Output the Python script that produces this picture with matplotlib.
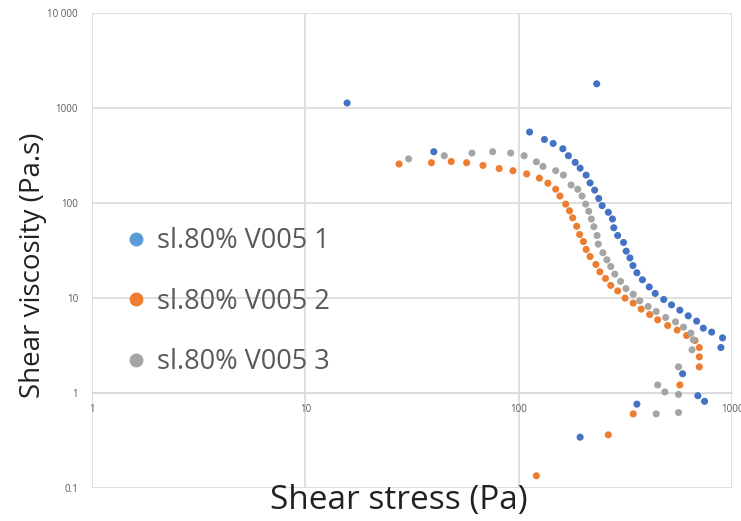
import matplotlib
matplotlib.use('Agg')
import matplotlib.pyplot as plt
from matplotlib.lines import Line2D

# Series 1 (blue)
x1 = [15.7, 232, 40, 112.5, 132, 145, 161, 171, 184, 194, 207, 216, 227, 237, 246,
      263, 275, 279, 291, 310, 319, 332, 343, 358, 380, 409, 436, 478, 520, 569,
      623, 682, 733, 802, 902, 886, 586, 691, 743, 358, 194]
y1 = [1130, 1800, 347, 559, 467, 424, 373, 315, 268, 233, 197, 163, 137, 112, 94,
      80, 68, 55, 45.6, 38.5, 31.2, 26.5, 22.0, 18.5, 15.6, 13.1, 11.2, 9.67, 8.5, 7.47,
      6.51, 5.73, 4.83, 4.39, 3.82, 3.02, 1.60, 0.94, 0.82, 0.766, 0.344]

# Series 2 (orange)
x2 = [27.5, 39, 48.3, 57, 68, 81, 94, 109, 125, 137, 149, 156, 166, 173, 179, 187,
      193, 201, 207, 216, 230, 240, 255, 270, 291, 315, 344, 375, 411, 448, 499,
      553, 612, 670, 702, 702, 702, 569, 344, 263, 121]
y2 = [258, 266, 274, 266, 249, 231, 219, 203, 183, 162, 140, 118.6, 97.6, 83, 70, 57,
      46.7, 39.4, 32.5, 27.4, 22.6, 18.9, 16.1, 13.6, 11.9, 10.0, 8.85, 7.66, 6.72, 5.91, 5.15,
      4.61, 4.04, 3.58, 3.02, 2.41, 1.89, 1.22, 0.605, 0.364, 0.135]

# Series 3 (gray)
x3 = [30.5, 44.8, 60.4, 75.5, 91.7, 106, 121, 130, 149, 162, 176, 189, 198, 206, 213,
      219, 225, 233, 236, 248, 259, 270, 282, 300, 318, 344, 369, 404, 441, 488,
      543, 592, 641, 658, 649, 561, 448, 484, 561, 441, 561]
y3 = [292, 315, 336, 347, 336, 315, 272, 243, 219, 197, 155, 140, 118.6, 97.6, 82,
      68, 56.4, 45.6, 37, 30, 25.3, 21.5, 17.9, 15.0, 12.6, 11.0, 9.37, 8.17, 7.23, 6.25,
      5.63, 4.95, 4.28, 3.64, 2.86, 1.89, 1.22, 1.03, 0.97, 0.605, 0.625]

labels = ['sl.80% V005 1', 'sl.80% V005 2', 'sl.80% V005 3']
colors = ['#4472C4', '#ED7D31', '#A5A5A5']
legend_colors = ['#5B9BD5', '#ED7D31', '#A5A5A5']

x_ticks = [1, 10, 100, 1000]
x_tick_labels = ['1', '10', '100', '1000']
y_ticks = [0.1, 1, 10, 100, 1000, 10000]
y_tick_labels = ['0.1', '1', '10', '100', '1000', '10 000']

plt.rcParams['font.family'] = ['Open Sans', 'DejaVu Sans']

fig = plt.figure(figsize=(7.41, 5.21), dpi=100)
ax = fig.add_axes([0.124, 0.063, 0.864, 0.912])

for xs, ys, c in zip([x1, x2, x3], [y1, y2, y3], colors):
    ax.scatter(xs, ys, s=26, color=c, edgecolors='none', zorder=3)

ax.set_xscale('log')
ax.set_yscale('log')
ax.set_xlim(1, 1000)
ax.set_ylim(0.1, 10000)
ax.minorticks_off()

ax.set_xticks(x_ticks)
ax.set_xticklabels(x_tick_labels)
ax.set_yticks(y_ticks)
ax.set_yticklabels(y_tick_labels)

ax.grid(True, color='#D9D9D9', linewidth=1.2)
ax.set_axisbelow(True)
for s in ['top', 'right', 'left']:
    ax.spines[s].set_visible(False)
# horizontal axis crosses at 1
ax.spines['bottom'].set_position(('data', 1))
ax.spines['bottom'].set_color('#D9D9D9')
ax.tick_params(axis='both', length=0, labelsize=7, labelcolor='#595959')
ax.tick_params(axis='x', pad=8)
ax.tick_params(axis='y', pad=10)

handles = [Line2D([], [], marker='o', linestyle='none', markersize=10,
                  markerfacecolor=c, markeredgecolor='none') for c in legend_colors]
leg = ax.legend(handles, labels, loc='center left', bbox_to_anchor=(0.01, 0.392),
                frameon=False, fontsize=19.5, labelspacing=1.2, handletextpad=0.25,
                handlelength=1.0)
for t in leg.get_texts():
    t.set_color('#595959')

fig.text(0.538, 0.04, 'Shear stress (Pa)', fontsize=24, color='#222222',
         ha='center', va='center')
fig.text(0.045, 0.49, 'Shear viscosity (Pa.s)', fontsize=20, color='#222222',
         ha='center', va='center', rotation=90)

fig.savefig('out.png', dpi=100)
